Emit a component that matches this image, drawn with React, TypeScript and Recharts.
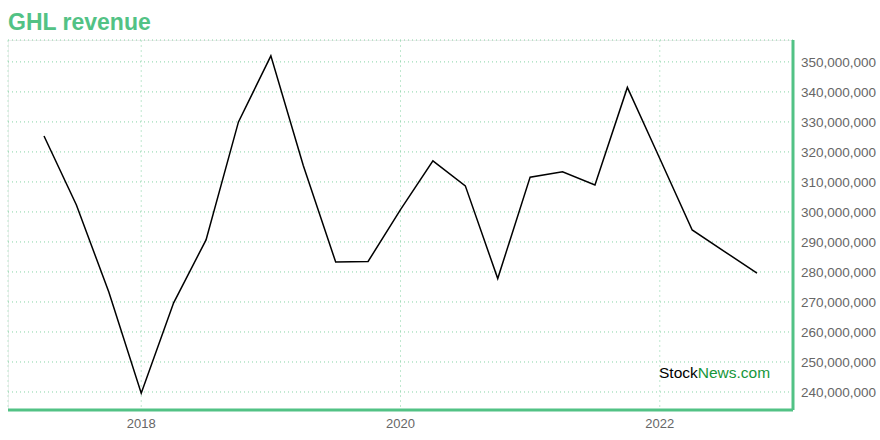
import {
  CartesianGrid,
  Line,
  LineChart,
  XAxis,
  YAxis,
} from "recharts";

// quarter ends, as decimal years
const periods = [
  2017.25, 2017.5, 2017.75, 2018.0, 2018.25, 2018.5, 2018.75, 2019.0,
  2019.25, 2019.5, 2019.75, 2020.0, 2020.25, 2020.5, 2020.75, 2021.0,
  2021.25, 2021.5, 2021.75, 2022.0, 2022.25, 2022.5, 2022.75,
];

// revenue, millions
const revenue = [
  325.3, 302.3, 273.3, 239.6, 269.7, 290.7, 330.0, 352.0,
  315.5, 283.3, 283.5, 300.8, 317.0, 308.7, 277.8, 311.6,
  313.4, 309.0, 341.5, 317.8, 294.0, 286.8, 279.6,
];

const yearTicks = [2018, 2020, 2022];
const valueTicks = [
  240, 250, 260, 270, 280, 290, 300, 310, 320, 330, 340, 350,
].map((m) => m * 1e6);

const GREEN = "#52c285";

const data = periods.map((t, i) => ({ t, value: revenue[i] * 1e6 }));

const fmt = (v: number) => v.toLocaleString("en-US");

export default function App() {
  return (
    <div
      style={{
        position: "absolute",
        left: 0,
        top: 0,
        width: 880,
        height: 440,
        fontFamily: "Arial, 'Liberation Sans', sans-serif",
        background: "#fff",
      }}
    >
      <div
        style={{
          position: "absolute",
          left: 8,
          top: 9,
          fontSize: 23,
          fontWeight: "bold",
          color: GREEN,
        }}
      >
        GHL revenue
      </div>
      <div
        style={{
          position: "absolute",
          left: 8,
          top: 40,
          width: 785,
          height: 370,
          borderTop: "1px solid #eee",
          borderLeft: "1px solid #eee",
          boxSizing: "border-box",
        }}
      />
      <div style={{ position: "absolute", left: 0, top: 0 }}>
        <LineChart
          width={880}
          height={440}
          data={data}
          margin={{ top: 40, right: 0, bottom: 0, left: 8 }}
        >
          <CartesianGrid
            horizontal={false}
            stroke="#bfe8cf"
            strokeDasharray="2 3"
          />
          <CartesianGrid
            vertical={false}
            stroke="#86d3a5"
            strokeDasharray="1 3"
          />
          <XAxis
            dataKey="t"
            type="number"
            domain={["dataMin", "dataMax"]}
            ticks={yearTicks}
            padding={{ left: 36, right: 36 }}
            height={30}
            tickSize={0}
            tickMargin={9}
            tick={{ fill: "#666", fontSize: 13 }}
            axisLine={{ stroke: GREEN, strokeWidth: 3 }}
          />
          <YAxis
            orientation="right"
            type="number"
            domain={[234e6, 357.3e6]}
            ticks={valueTicks}
            width={87}
            tickSize={0}
            tickMargin={8}
            tickFormatter={fmt}
            tick={{ fill: "#666", fontSize: 13.5, textAnchor: "start" }}
            axisLine={{ stroke: GREEN, strokeWidth: 3 }}
          />
          <Line
            dataKey="value"
            stroke="#000"
            strokeWidth={1.5}
            dot={false}
            isAnimationActive={false}
          />
        </LineChart>
      </div>
      <div
        style={{
          position: "absolute",
          left: 659,
          top: 364,
          fontSize: 15.5,
        }}
      >
        <span style={{ color: "#000" }}>Stock</span>
        <span style={{ color: "#16963a" }}>News.com</span>
      </div>
    </div>
  );
}
